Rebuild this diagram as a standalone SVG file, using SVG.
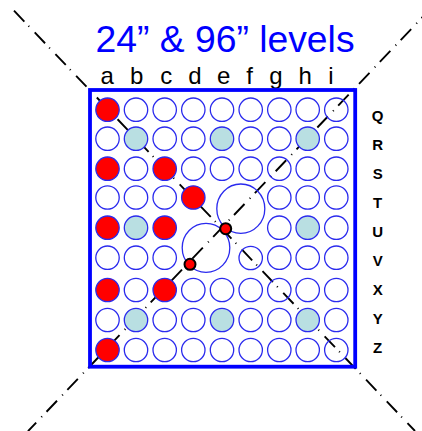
<svg xmlns="http://www.w3.org/2000/svg" width="422" height="431" viewBox="0 0 422 431">
<style>
.c{fill:none;stroke:#2a2aee;stroke-width:1.3}
.r{fill:#f00;stroke:#2a2aee;stroke-width:1.3}
.b{fill:#b9dfe2;stroke:#2a2aee;stroke-width:1.3}
.cl{fill:none;stroke:#000;stroke-width:1.9}
.t{font-family:"Liberation Sans",Arial,sans-serif}
.col{font-size:24px;text-anchor:middle;fill:#000}
.row{font-size:15px;font-weight:bold;text-anchor:middle;fill:#000}
.dot{fill:#f00;stroke:#000;stroke-width:2}
</style>
<text class="t" x="225" y="52" font-size="37.3" fill="#0000ff" text-anchor="middle">24” &amp; 96” levels</text>
<g id="column-labels" class="t">
<text class="col" x="107.3" y="83.5">a</text><text class="col" x="136.7" y="83.5">b</text><text class="col" x="166.3" y="83.5">c</text><text class="col" x="195" y="83.5">d</text><text class="col" x="223.7" y="83.5">e</text><text class="col" x="249.7" y="83.5">f</text><text class="col" x="276" y="83.5">g</text><text class="col" x="305.3" y="83.5">h</text><text class="col" x="331" y="83.5">i</text>
</g>
<g id="row-labels" class="t">
<text class="row" x="377.7" y="120.7">Q</text><text class="row" x="377.7" y="150">R</text><text class="row" x="377.7" y="179">S</text><text class="row" x="377.7" y="207.5">T</text><text class="row" x="377.7" y="236.7">U</text><text class="row" x="377.7" y="265.7">V</text><text class="row" x="377.7" y="295">X</text><text class="row" x="377.7" y="324">Y</text><text class="row" x="377.7" y="352.7">Z</text>
</g>
<g id="connectors">
<path class="cl" stroke-dasharray="15 6 1 8" d="M14 10.7L415 431"/>
<path class="cl" stroke-dasharray="15.2 6.5 1 7.5" d="M432 7.2L28 431.2"/>
</g>
<g id="frame"><rect x="90" y="90" width="265.2" height="276.7" fill="none" stroke="#0000ff" stroke-width="3.8"/></g>
<g id="grid">
<g id="row-Q"><circle class="r" cx="107.5" cy="109.7" r="11.7"/><circle class="c" cx="136" cy="109.7" r="11.7"/><circle class="c" cx="164.7" cy="109.7" r="11.7"/><circle class="c" cx="193.3" cy="109.7" r="11.7"/><circle class="c" cx="222" cy="109.7" r="11.7"/><circle class="c" cx="250.7" cy="109.7" r="11.7"/><circle class="c" cx="279.3" cy="109.7" r="11.7"/><circle class="c" cx="307.7" cy="109.7" r="11.7"/><circle class="c" cx="336.3" cy="109.7" r="11.7"/></g>
<g id="row-R"><circle class="c" cx="107.5" cy="138.7" r="11.7"/><circle class="b" cx="136" cy="138.7" r="11.7"/><circle class="c" cx="164.7" cy="138.7" r="11.7"/><circle class="c" cx="193.3" cy="138.7" r="11.7"/><circle class="b" cx="222" cy="138.7" r="11.7"/><circle class="c" cx="250.7" cy="138.7" r="11.7"/><circle class="c" cx="279.3" cy="138.7" r="11.7"/><circle class="b" cx="307.7" cy="138.7" r="11.7"/><circle class="c" cx="336.3" cy="138.7" r="11.7"/></g>
<g id="row-S"><circle class="r" cx="107.5" cy="168.7" r="11.7"/><circle class="c" cx="136" cy="168.7" r="11.7"/><circle class="r" cx="164.7" cy="168.7" r="11.7"/><circle class="c" cx="193.3" cy="168.7" r="11.7"/><circle class="c" cx="222" cy="168.7" r="11.7"/><circle class="c" cx="250.7" cy="168.7" r="11.7"/><circle class="c" cx="279.3" cy="168.7" r="11.7"/><circle class="c" cx="307.7" cy="168.7" r="11.7"/><circle class="c" cx="336.3" cy="168.7" r="11.7"/></g>
<g id="row-T"><circle class="c" cx="107.5" cy="197.5" r="11.7"/><circle class="c" cx="136" cy="197.5" r="11.7"/><circle class="c" cx="164.7" cy="197.5" r="11.7"/><circle class="r" cx="193.3" cy="197.5" r="11.7"/><circle class="c" cx="279.3" cy="197.5" r="11.7"/><circle class="c" cx="307.7" cy="197.5" r="11.7"/><circle class="c" cx="336.3" cy="197.5" r="11.7"/></g>
<g id="row-U"><circle class="r" cx="107.5" cy="227.7" r="11.7"/><circle class="b" cx="136" cy="227.7" r="11.7"/><circle class="r" cx="164.7" cy="227.7" r="11.7"/><circle class="c" cx="279.3" cy="227.7" r="11.7"/><circle class="b" cx="307.7" cy="227.7" r="11.7"/><circle class="c" cx="336.3" cy="227.7" r="11.7"/></g>
<g id="row-V"><circle class="c" cx="107.5" cy="257.7" r="11.7"/><circle class="c" cx="136" cy="257.7" r="11.7"/><circle class="c" cx="164.7" cy="257.7" r="11.7"/><circle class="c" cx="250.7" cy="258" r="11.7"/><circle class="c" cx="279.3" cy="257.7" r="11.7"/><circle class="c" cx="307.7" cy="257.7" r="11.7"/><circle class="c" cx="336.3" cy="257.7" r="11.7"/></g>
<g id="row-X"><circle class="r" cx="107.5" cy="290" r="11.7"/><circle class="c" cx="136" cy="290" r="11.7"/><circle class="r" cx="164.7" cy="290" r="11.7"/><circle class="c" cx="193.3" cy="290" r="11.7"/><circle class="c" cx="222" cy="290" r="11.7"/><circle class="c" cx="250.7" cy="290" r="11.7"/><circle class="c" cx="279.3" cy="290" r="11.7"/><circle class="c" cx="307.7" cy="290" r="11.7"/><circle class="c" cx="336.3" cy="290" r="11.7"/></g>
<g id="row-Y"><circle class="c" cx="107.5" cy="320" r="11.7"/><circle class="b" cx="136" cy="320" r="11.7"/><circle class="c" cx="164.7" cy="320" r="11.7"/><circle class="c" cx="193.3" cy="320" r="11.7"/><circle class="b" cx="222" cy="320" r="11.7"/><circle class="c" cx="250.7" cy="320" r="11.7"/><circle class="c" cx="279.3" cy="320" r="11.7"/><circle class="b" cx="307.7" cy="320" r="11.7"/><circle class="c" cx="336.3" cy="320" r="11.7"/></g>
<g id="row-Z"><circle class="r" cx="107.5" cy="350" r="11.7"/><circle class="c" cx="136" cy="350" r="11.7"/><circle class="c" cx="164.7" cy="350" r="11.7"/><circle class="c" cx="193.3" cy="350" r="11.7"/><circle class="c" cx="222" cy="350" r="11.7"/><circle class="c" cx="250.7" cy="350" r="11.7"/><circle class="c" cx="279.3" cy="350" r="11.7"/><circle class="c" cx="307.7" cy="350" r="11.7"/><circle class="c" cx="336.3" cy="350" r="11.7"/></g>
</g>
<g id="large-circles"><ellipse class="c" cx="240.8" cy="208.7" rx="24" ry="24.7"/><ellipse class="c" cx="206" cy="247.8" rx="23.8" ry="24.5"/></g>
<g id="dots"><circle class="dot" cx="225.7" cy="228.7" r="5.5"/><circle class="dot" cx="190" cy="264.3" r="5.5"/></g>
</svg>
